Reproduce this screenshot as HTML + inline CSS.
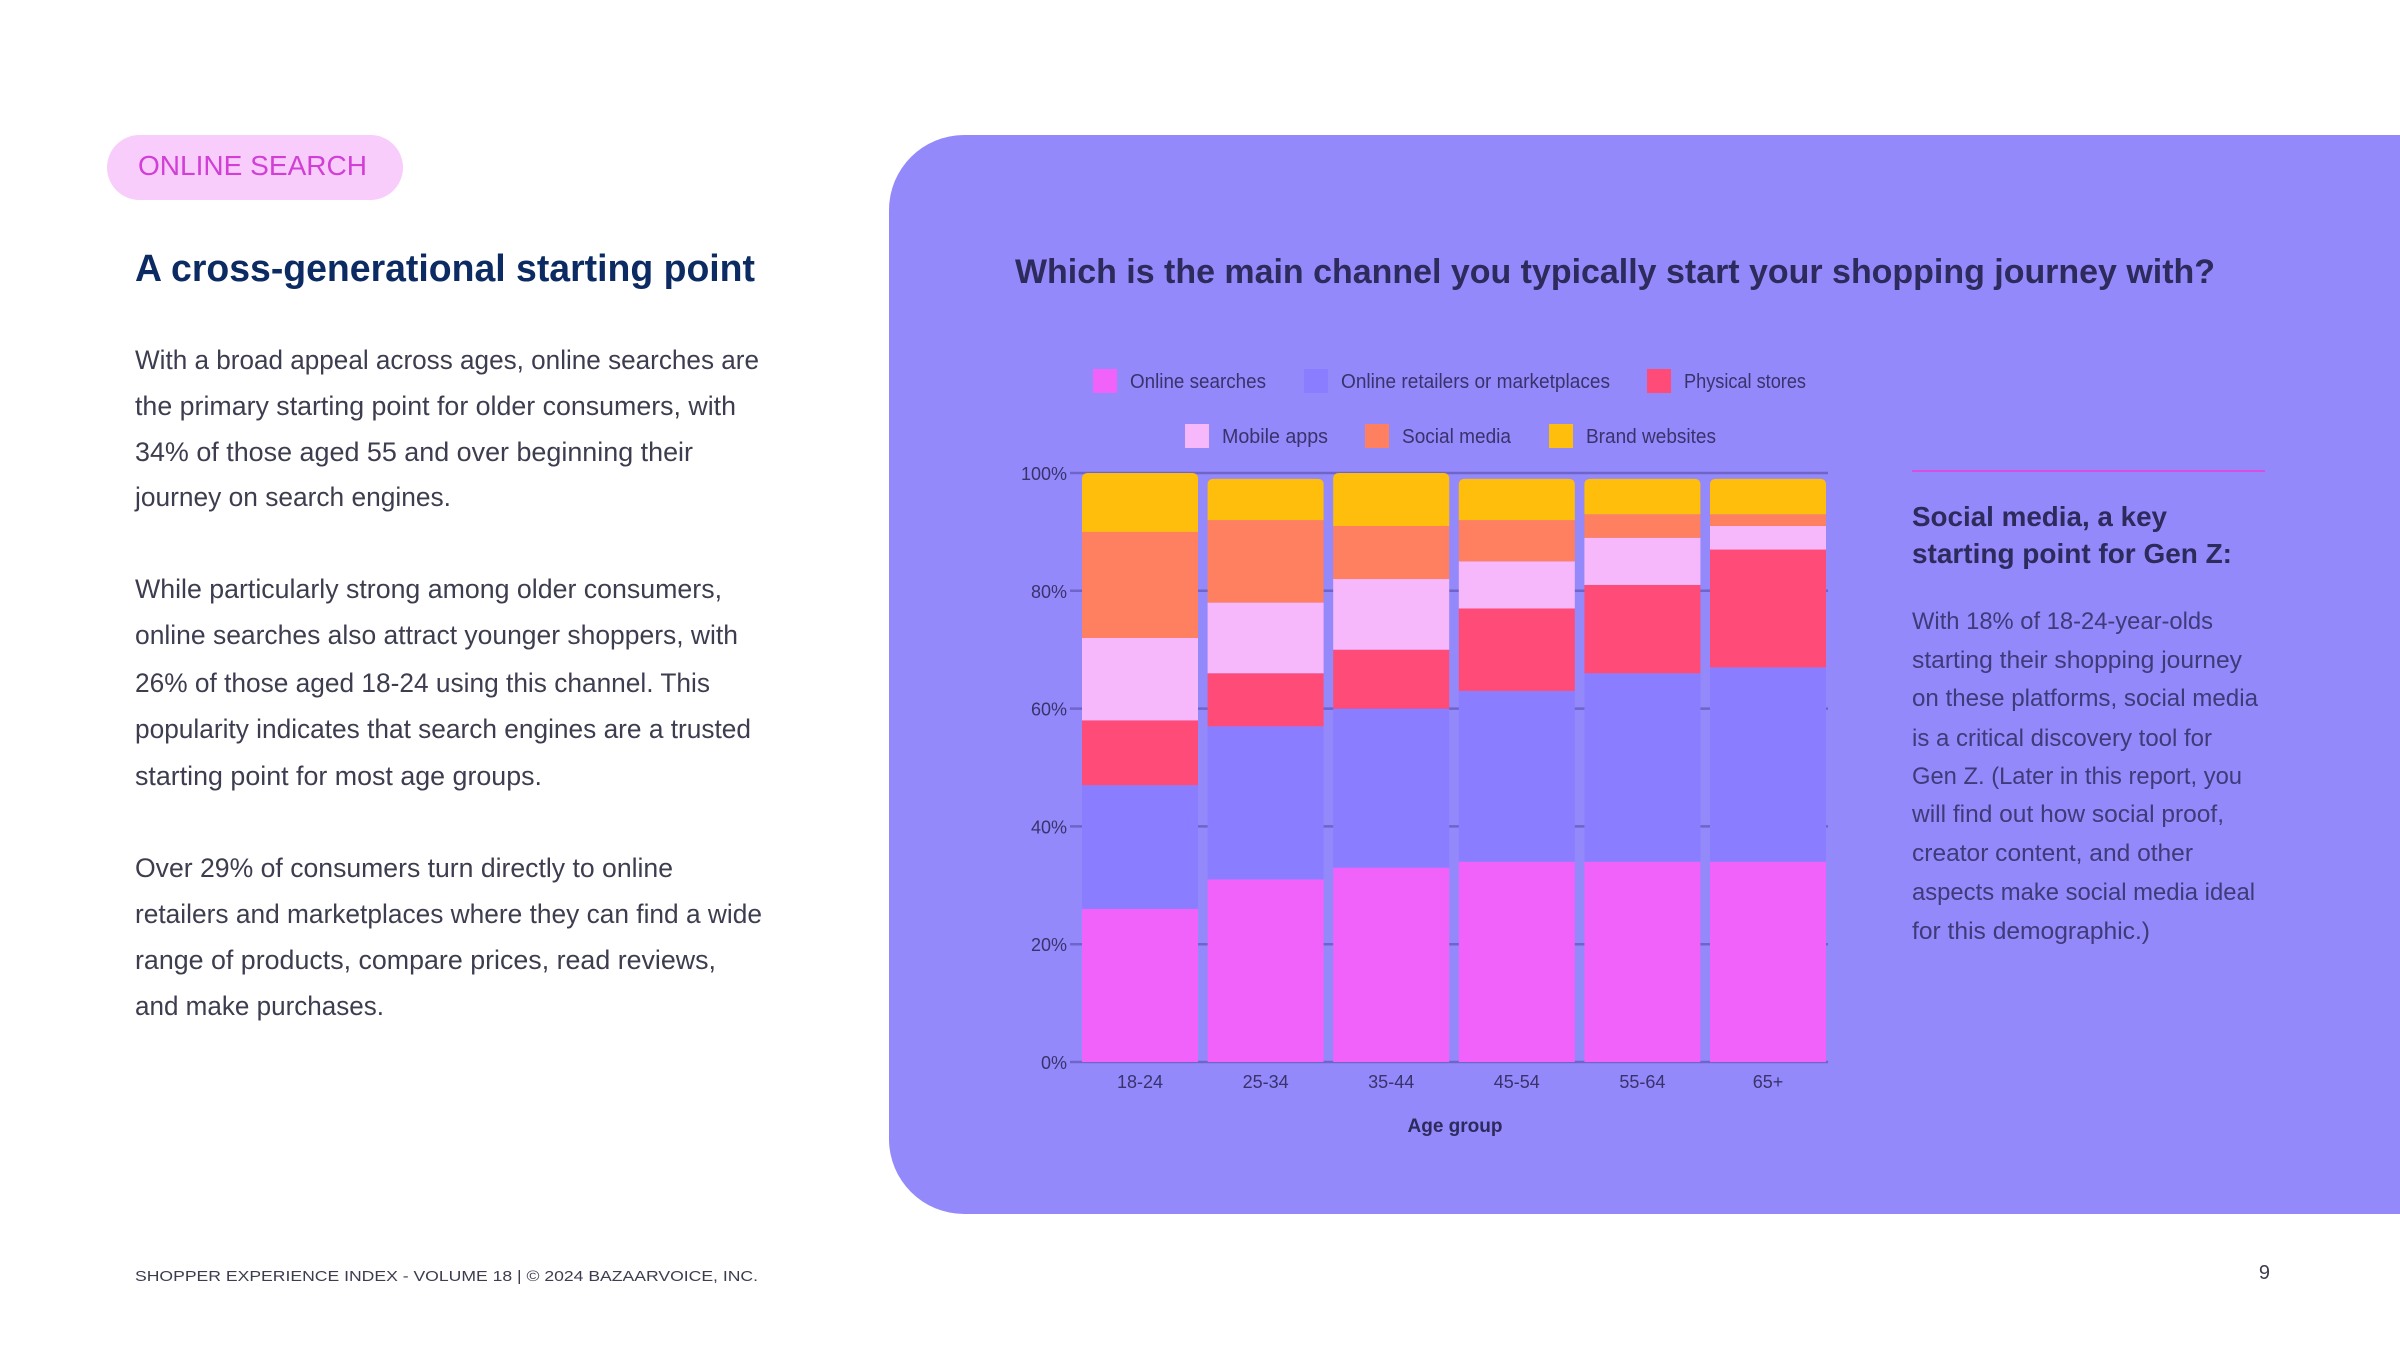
<!DOCTYPE html>
<html><head><meta charset="utf-8"><style>
html,body{margin:0;padding:0;background:#fff}
svg{display:block}
text{font-family:"Liberation Sans",sans-serif}
</style></head><body>
<svg id="page" width="2400" height="1350" viewBox="0 0 2400 1350">
<rect x="0" y="0" width="2400" height="1350" fill="#ffffff"/>
<g>
<rect x="107" y="135" width="296" height="65" rx="32.5" fill="#f8cdfb"/>
<text x="138" y="175" font-size="28" fill="#d23fd6" textLength="229" lengthAdjust="spacingAndGlyphs">ONLINE SEARCH</text>
</g>
<text x="135" y="281" font-size="38" font-weight="bold" fill="#0d2b63" textLength="620" lengthAdjust="spacingAndGlyphs">A cross-generational starting point</text>
<g font-size="27" fill="#3d3d50">
<text x="135" y="369" textLength="624" lengthAdjust="spacingAndGlyphs">With a broad appeal across ages, online searches are</text>
<text x="135" y="415" textLength="601" lengthAdjust="spacingAndGlyphs">the primary starting point for older consumers, with</text>
<text x="135" y="461" textLength="558" lengthAdjust="spacingAndGlyphs">34% of those aged 55 and over beginning their</text>
<text x="135" y="506" textLength="316" lengthAdjust="spacingAndGlyphs">journey on search engines.</text>
<text x="135" y="598" textLength="587" lengthAdjust="spacingAndGlyphs">While particularly strong among older consumers,</text>
<text x="135" y="644" textLength="603" lengthAdjust="spacingAndGlyphs">online searches also attract younger shoppers, with</text>
<text x="135" y="692" textLength="575" lengthAdjust="spacingAndGlyphs">26% of those aged 18-24 using this channel. This</text>
<text x="135" y="738" textLength="616" lengthAdjust="spacingAndGlyphs">popularity indicates that search engines are a trusted</text>
<text x="135" y="785" textLength="407" lengthAdjust="spacingAndGlyphs">starting point for most age groups.</text>
<text x="135" y="877" textLength="538" lengthAdjust="spacingAndGlyphs">Over 29% of consumers turn directly to online</text>
<text x="135" y="923" textLength="627" lengthAdjust="spacingAndGlyphs">retailers and marketplaces where they can find a wide</text>
<text x="135" y="969" textLength="581" lengthAdjust="spacingAndGlyphs">range of products, compare prices, read reviews,</text>
<text x="135" y="1015" textLength="249" lengthAdjust="spacingAndGlyphs">and make purchases.</text>
</g>
<path d="M964 135 H2400 V1214 H964 A75 75 0 0 1 889 1139 V210 A75 75 0 0 1 964 135 Z" fill="#9489fb"/>
<text x="1015" y="283" font-size="34" font-weight="bold" fill="#2d2a5c" textLength="1200" lengthAdjust="spacingAndGlyphs">Which is the main channel you typically start your shopping journey with?</text>
<g id="legend" font-size="20" fill="#38336b"></g>
<g id="chart"></g>
<text x="1455" y="1132" font-size="19" font-weight="bold" fill="#2d2a5c" text-anchor="middle" textLength="95" lengthAdjust="spacingAndGlyphs">Age group</text>
<line x1="1912" y1="471" x2="2265" y2="471" stroke="#d84fe0" stroke-width="2"/>
<g font-size="28" font-weight="bold" fill="#2d2a5c">
<text x="1912" y="526" textLength="255" lengthAdjust="spacingAndGlyphs">Social media, a key</text>
<text x="1912" y="563" textLength="320" lengthAdjust="spacingAndGlyphs">starting point for Gen Z:</text>
</g>
<g font-size="24" fill="#3f3a78">
<text x="1912" y="629" textLength="301" lengthAdjust="spacingAndGlyphs">With 18% of 18-24-year-olds</text>
<text x="1912" y="668" textLength="330" lengthAdjust="spacingAndGlyphs">starting their shopping journey</text>
<text x="1912" y="706" textLength="346" lengthAdjust="spacingAndGlyphs">on these platforms, social media</text>
<text x="1912" y="746" textLength="300" lengthAdjust="spacingAndGlyphs">is a critical discovery tool for</text>
<text x="1912" y="784" textLength="330" lengthAdjust="spacingAndGlyphs">Gen Z. (Later in this report, you</text>
<text x="1912" y="822" textLength="312" lengthAdjust="spacingAndGlyphs">will find out how social proof,</text>
<text x="1912" y="861" textLength="281" lengthAdjust="spacingAndGlyphs">creator content, and other</text>
<text x="1912" y="900" textLength="343" lengthAdjust="spacingAndGlyphs">aspects make social media ideal</text>
<text x="1912" y="939" textLength="238" lengthAdjust="spacingAndGlyphs">for this demographic.)</text>
</g>
<text x="135" y="1281" font-size="15" fill="#3d3d50" textLength="623" lengthAdjust="spacingAndGlyphs">SHOPPER EXPERIENCE INDEX - VOLUME 18  |  © 2024 BAZAARVOICE, INC.</text>
<text x="2270" y="1279" font-size="20" fill="#3d3d50" text-anchor="end">9</text>
</svg>
<script>
const categories = ["18-24","25-34","35-44","45-54","55-64","65+"];
const seriesNames = ["Online searches","Online retailers or marketplaces","Physical stores","Mobile apps","Social media","Brand websites"];
const onlineSearches = [26,31,33,34,34,34];
const onlineRetailers = [21,26,27,29,32,33];
const physicalStores = [11,9,10,14,15,20];
const mobileApps = [14,12,12,8,8,4];
const socialMedia = [18,14,9,7,4,2];
const brandWebsites = [10,7,9,7,6,6];
const yTicks = [0,20,40,60,80,100];
const yTickLabels = ["0%","20%","40%","60%","80%","100%"];

const series = [onlineSearches,onlineRetailers,physicalStores,mobileApps,socialMedia,brandWebsites];
const colors = ["#f062f9","#8b7dff","#ff4b77","#f7b7fb","#ff7f61","#ffbe0b"];
const NS = "http://www.w3.org/2000/svg";
const chart = document.getElementById('chart');
const legend = document.getElementById('legend');
const y0 = 1062, y100 = 473, xFirst = 1082, pitch = 125.6, bw = 116;
function yScale(v){ return y0 + (y100 - y0) * v / 100; }
function xScale(i){ return xFirst + i * pitch; }
function mk(tag, attrs){ const e = document.createElementNS(NS, tag); for (const k in attrs) e.setAttribute(k, attrs[k]); return e; }

// gridlines + y labels
yTicks.forEach((t, i) => {
  const y = yScale(t);
  const ln = mk('line', {x1: xFirst - 12, x2: xScale(categories.length - 1) + bw + 2, y1: y, y2: y, stroke: '#6f64c9', 'stroke-width': 2.5});
  
  
  chart.appendChild(ln);
  const tx = mk('text', {x: 1067, y: y + 7, 'font-size': 18, fill: '#38336b', 'text-anchor': 'end'});
  tx.textContent = yTickLabels[i];
  
  
  chart.appendChild(tx);
});

// bars
categories.forEach((c, i) => {
  let cum = 0;
  const x = xScale(i);
  const total = series.reduce((s, a) => s + a[i], 0);
  series.forEach((arr, s) => {
    const v = arr[i];
    const yTop = yScale(cum + v), yBot = yScale(cum);
    let el;
    if (s === series.length - 1) {
      const r = 6, h = yBot - yTop;
      el = mk('path', {d: `M${x} ${yBot} V${yTop + r} Q${x} ${yTop} ${x + r} ${yTop} H${x + bw - r} Q${x + bw} ${yTop} ${x + bw} ${yTop + r} V${yBot} Z`, fill: colors[s]});
    } else {
      el = mk('rect', {x: x, y: yTop, width: bw, height: yBot - yTop, fill: colors[s]});
    }
    
    
    chart.appendChild(el);
    cum += v;
  });
  const lbl = mk('text', {x: x + bw / 2, y: 1088, 'font-size': 18, fill: '#38336b', 'text-anchor': 'middle'});
  lbl.textContent = c;
  
  
  chart.appendChild(lbl);
});

// legend
const legendPos = [[1093,381,136],[1304,381,269],[1647,381,122],[1185,436,106],[1365,436,109],[1549,436,130]];
seriesNames.forEach((n, i) => {
  const p = legendPos[i];
  const sq = mk('rect', {x: p[0], y: p[1] - 12, width: 24, height: 24, fill: colors[i]});
  
  
  legend.appendChild(sq);
  const t = mk('text', {x: p[0] + 37, y: p[1] + 7, textLength: p[2], lengthAdjust: 'spacingAndGlyphs'});
  t.textContent = n;
  
  
  legend.appendChild(t);
});
</script>
</body></html>
